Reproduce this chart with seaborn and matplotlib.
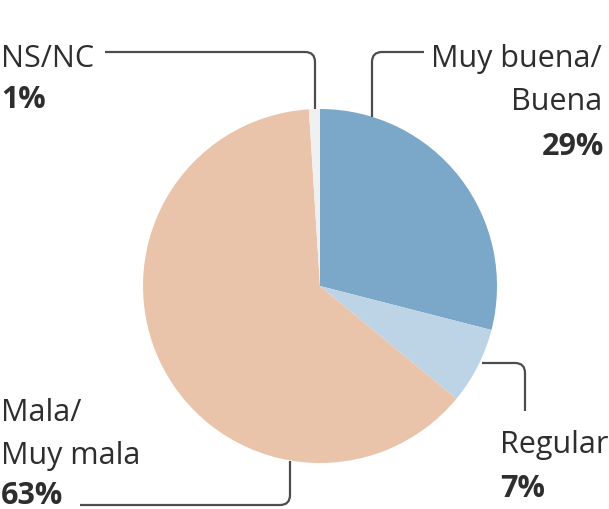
import matplotlib
matplotlib.use("Agg")
import matplotlib.pyplot as plt
from matplotlib.path import Path
from matplotlib.patches import PathPatch
import seaborn as sns

# data
categories = ["Muy buena/\nBuena", "Regular", "Mala/\nMuy mala", "NS/NC"]
shares = [29, 7, 63, 1]
colors = ["#7ba7c9", "#bdd4e7", "#eac4aa", "#f0f0f0"]

W, H = 609, 510

sns.set_theme(style="white")
plt.rcParams["font.family"] = ["Open Sans", "Noto Sans", "DejaVu Sans"]

fig = plt.figure(figsize=(W / 100, H / 100), dpi=100)
ax = fig.add_axes([0, 0, 1, 1])
ax.axis("off")

ax.pie(shares, colors=colors, startangle=90, counterclock=False,
       radius=177, center=(320, H - 287),
       wedgeprops=dict(linewidth=0))
ax.set_xlim(0, W)
ax.set_ylim(0, H)
ax.set_aspect("equal")


def leader(p0, p1, p2, r=10):
  # polyline p0 -> p1 -> p2 with a rounded corner at p1 (image coords)
  def toward(a, b, d):
    dx, dy = b[0] - a[0], b[1] - a[1]
    n = (dx ** 2 + dy ** 2) ** .5
    return (a[0] + dx / n * d, a[1] + dy / n * d)
  a = toward(p1, p0, r)
  b = toward(p1, p2, r)
  pts = [(x, H - y) for x, y in [p0, a, p1, b, p2]]
  codes = [Path.MOVETO, Path.LINETO, Path.CURVE3, Path.CURVE3, Path.LINETO]
  ax.add_patch(PathPatch(Path(pts, codes), fill=False, edgecolor="#4d4d4d",
                         lw=1.6, capstyle="butt"))


def label(x, y, s, ha="left", bold=False):
  ax.text(x, H - y, s, ha=ha, va="baseline", fontsize=22,
          color="#2e2e2e", fontweight="bold" if bold else "normal")


leader((105, 53), (315, 53), (315, 110))
leader((424, 53), (372, 53), (372, 118))
leader((482, 364), (525, 364), (525, 412))
leader((290, 462), (290, 506), (80, 506))

label(1, 67, categories[3])
label(1, 108, f"{shares[3]}%", bold=True)

label(602, 67, "Muy buena/", ha="right")
label(602, 110, "Buena", ha="right")
label(604, 155, f"{shares[0]}%", ha="right", bold=True)

label(500, 453, categories[1])
label(500, 497, f"{shares[1]}%", bold=True)

label(1, 421, "Mala/")
label(1, 464, "Muy mala")
label(1, 504, f"{shares[2]}%", bold=True)

fig.savefig("out.png", dpi=100, facecolor="white")
